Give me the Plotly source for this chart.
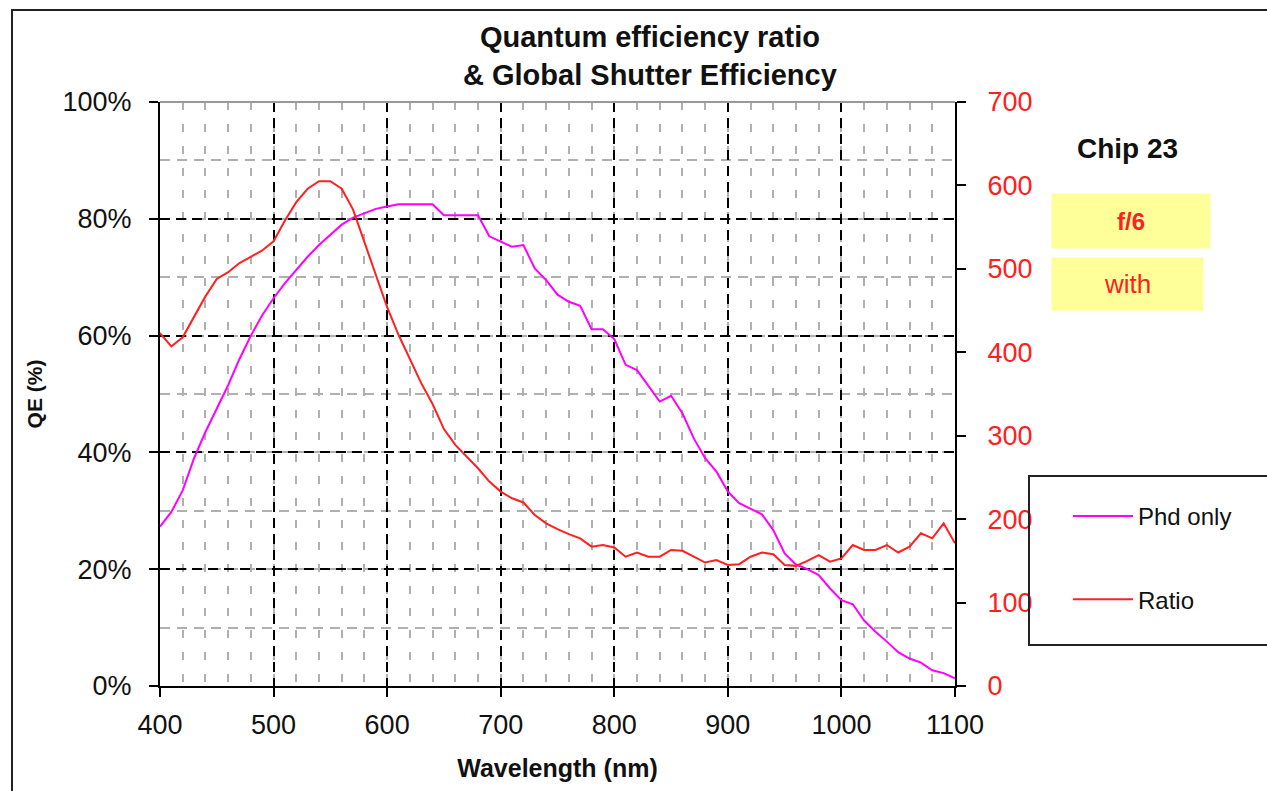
import plotly.graph_objects as go

wavelength = list(range(400, 1101, 10))

phd_only_qe = [27.3, 29.8, 33.5, 39.0, 43.5, 47.5, 51.5, 56.0, 60.0, 63.5,
               66.4, 69.0, 71.2, 73.5, 75.5, 77.3, 79.0, 80.2, 81.0, 81.7,
               82.1, 82.5, 82.5, 82.5, 82.5, 80.6, 80.6, 80.6, 80.6, 77.0,
               76.1, 75.2, 75.5, 71.5, 69.5, 67.0, 65.8, 65.1, 61.1, 61.1,
               59.4, 55.0, 54.1, 51.5, 48.7, 49.7, 46.7, 42.4, 39.0, 36.7,
               33.3, 31.3, 30.3, 29.4, 26.7, 22.7, 20.8, 20.0, 19.0, 16.7,
               14.7, 14.0, 11.2, 9.3, 7.6, 5.8, 4.7, 4.0, 2.7, 2.2, 1.3]

ratio = [423, 407, 418, 442, 467, 488, 496, 507, 515, 522,
         533, 558, 580, 596, 605, 605, 596, 571, 532, 493,
         454, 421, 393, 363, 338, 308, 289, 275, 261, 245,
         233, 225, 220, 205, 195, 188, 182, 177, 167, 169,
         166, 155, 160, 155, 155, 163, 162, 155, 148, 151,
         145, 146, 155, 160, 158, 145, 144, 150, 157, 149,
         153, 169, 163, 163, 169, 160, 167, 183, 177, 195, 171]

x_ticks = [400, 500, 600, 700, 800, 900, 1000, 1100]
qe_ticks = [0, 20, 40, 60, 80, 100]
qe_tick_labels = ["0%", "20%", "40%", "60%", "80%", "100%"]
ratio_ticks = [0, 100, 200, 300, 400, 500, 600, 700]

FONT = "Liberation Sans, Arial, sans-serif"
W, H = 1267, 791
L, R, T, B = 160, 312, 102, 105
PW, PH = W - L - R, H - T - B


def px(xp):
    return (xp - L) / PW


def py(yp):
    return (H - B - yp) / PH


fig = go.Figure()
fig.add_trace(go.Scatter(x=wavelength, y=phd_only_qe, mode="lines", name="Phd only",
                         line=dict(color="#FF00FF", width=2), legendgroup="a"))
fig.add_trace(go.Scatter(x=wavelength, y=ratio, mode="lines", name="Ratio", yaxis="y2",
                         line=dict(color="#FF2020", width=2), legendgroup="b"))

fig.update_layout(
    width=W, height=H,
    margin=dict(l=L, r=R, t=T, b=B, autoexpand=False),
    paper_bgcolor="white", plot_bgcolor="white",
    font=dict(family=FONT, color="black"),
    xaxis=dict(range=[400, 1100], tickvals=x_ticks, ticks="outside", ticklen=9,
               tickwidth=2, tickcolor="black", showline=True, linecolor="black",
               linewidth=2, showgrid=True, gridcolor="black", gridwidth=2,
               griddash="10px,6px", zeroline=False, ticklabelstandoff=5,
               tickfont=dict(size=27, color="#111"),
               title=dict(text="<b>Wavelength (nm)</b>", font=dict(size=25, color="#111"),
                          standoff=20),
               minor=dict(dtick=20, tick0=400, showgrid=True, gridcolor="#B0B0B0",
                          gridwidth=2, griddash="8px,14px", ticks="")),
    yaxis=dict(range=[0, 100], tickvals=qe_ticks, ticktext=qe_tick_labels,
               ticks="outside", ticklen=9, tickwidth=2, tickcolor="black",
               showline=True, linecolor="black", linewidth=2, showgrid=True,
               gridcolor="black", gridwidth=2, griddash="10px,6px", zeroline=False,
               ticklabelstandoff=12, tickfont=dict(size=27, color="#111"),
               title=dict(text="<b>QE (%)</b>", font=dict(size=21, color="#111"),
                          standoff=14),
               minor=dict(dtick=10, tick0=0, showgrid=True, gridcolor="#B0B0B0",
                          gridwidth=2, griddash="10px,7px", ticks="")),
    yaxis2=dict(range=[0, 700], tickvals=ratio_ticks, overlaying="y", side="right",
                ticks="outside", ticklen=9, tickwidth=2, tickcolor="black",
                showline=True, linecolor="black", linewidth=2, showgrid=False,
                zeroline=False, ticklabelstandoff=16,
                tickfont=dict(size=27, color="#FF2020")),
    showlegend=True,
    legend=dict(x=px(1068), y=py(494), xanchor="left", yanchor="top",
                bgcolor="rgba(0,0,0,0)", borderwidth=0, tracegroupgap=49,
                font=dict(size=24, color="#111"), itemwidth=60),
)

# chart title
fig.add_annotation(text="<b>Quantum efficiency ratio<br>& Global Shutter Efficiency</b>",
                   xref="paper", yref="paper", x=px(650), y=py(56),
                   xanchor="center", yanchor="middle", showarrow=False,
                   font=dict(size=29, color="#111"))

# outer frame of the chart area
fig.add_shape(type="rect", xref="paper", yref="paper",
              x0=px(12), x1=px(1300), y0=py(830), y1=py(10),
              line=dict(color="#222", width=2), fillcolor="rgba(0,0,0,0)", layer="above")
# top border of plot area (gray)
fig.add_shape(type="line", xref="paper", yref="paper", x0=0, x1=1, y0=1, y1=1,
              line=dict(color="#999", width=2))
# legend box
fig.add_shape(type="rect", xref="paper", yref="paper",
              x0=px(1029), x1=px(1300), y0=py(645), y1=py(476),
              line=dict(color="#222", width=2), fillcolor="rgba(0,0,0,0)")

fig.add_annotation(text="<b>Chip 23</b>", xref="paper", yref="paper",
                   x=px(1127), y=py(148), xanchor="center", yanchor="middle",
                   showarrow=False, font=dict(size=28, color="#111"))
fig.add_annotation(text="<b>f/6</b>", xref="paper", yref="paper",
                   x=px(1131), y=py(221), xanchor="center", yanchor="middle",
                   showarrow=False, width=158, height=54,
                   borderpad=0, bgcolor="#FFFF99", font=dict(size=24, color="#FF2020"))
fig.add_annotation(text="with", xref="paper", yref="paper",
                   x=px(1127.5), y=py(284), xanchor="center", yanchor="middle",
                   showarrow=False, width=151, height=52,
                   borderpad=0, bgcolor="#FFFF99", font=dict(size=26, color="#FF2020"))

fig.write_html("out.html")
